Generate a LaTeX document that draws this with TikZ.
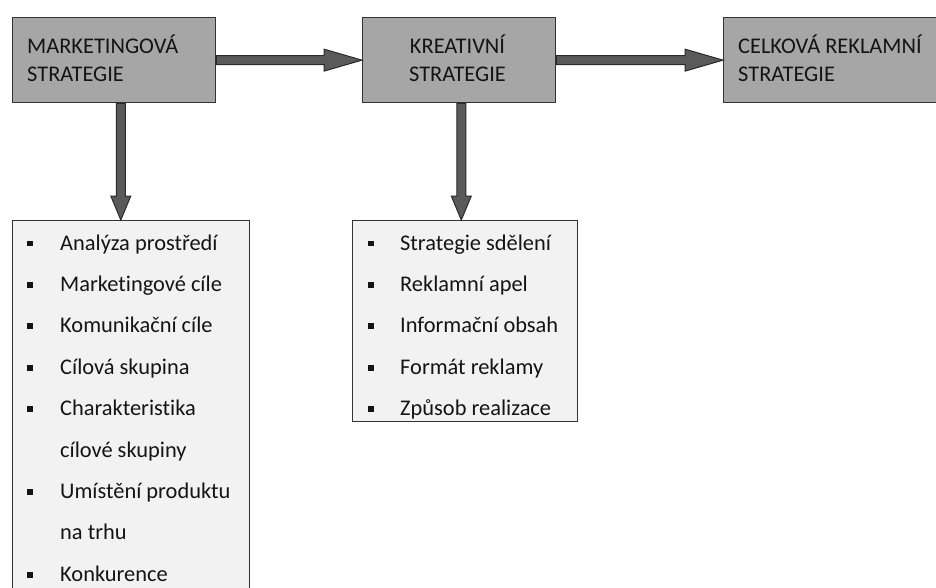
\documentclass[tikz,border=0pt]{standalone}
\usepackage{fontspec}
\setmainfont[Ligatures={NoCommon}]{Carlito}
\usetikzlibrary{calc}
\definecolor{boxgray}{HTML}{A6A6A6}
\definecolor{listbg}{HTML}{F2F2F2}
\definecolor{edge}{HTML}{333333}
\definecolor{arrfill}{HTML}{5A5A5A}
\definecolor{arredge}{HTML}{2A2A2A}
\definecolor{ink}{HTML}{141414}
\begin{document}
\begin{tikzpicture}[x=1pt,y=-1pt,
  stratbox/.style={draw=edge, line width=1.3pt, fill=boxgray, inner sep=0pt, anchor=north west},
  listbox/.style={draw=edge, line width=1.3pt, fill=listbg, inner sep=0pt, anchor=north west},
  head/.style={font=\fontsize{22.4}{27}\selectfont, text=ink, inner sep=0pt},
  item/.style={font=\fontsize{22.4}{27}\selectfont, text=ink, inner sep=0pt, anchor=base west},
  bul/.style={fill=ink, inner sep=0pt, minimum width=6pt, minimum height=5.8pt},
  barrow/.style={fill=arrfill, draw=arredge, line width=1pt, line join=miter}]
\useasboundingbox (0,0) rectangle (936,588);
\fill[white] (0,0) rectangle (936,588);

% top boxes
\node[stratbox, minimum width=203pt, minimum height=85pt] (mk) at (12,17) {};
\node[stratbox, minimum width=193pt, minimum height=85pt] (kr) at (362,17) {};
\node[stratbox, minimum width=240pt, minimum height=85pt] (ce) at (723,17) {};

\node[head, anchor=base west] (mk1) at (27,54) {MARKETINGOVÁ};
\node[head, anchor=base west] (mk2) at (27,81.5) {STRATEGIE};
\node[head, anchor=base] (kr1) at (457.5,54) {KREATIVNÍ};
\node[head, anchor=base] (kr2) at (457.5,81.5) {STRATEGIE};
\node[head, anchor=base west] (ce1) at (738,54) {CELKOVÁ REKLAMNÍ};
\node[head, anchor=base west] (ce2) at (738,81.5) {STRATEGIE};

% list boxes
\node[listbox, minimum width=237pt, minimum height=400pt] (lm) at (12,220) {};
\node[listbox, minimum width=225pt, minimum height=201pt] (lk) at (352,220) {};

\begin{scope}
\clip ([shift={(0.7pt,-0.7pt)}]lm.north west) rectangle ([shift={(-0.7pt,0.7pt)}]lm.south east);
\foreach \b/\t [count=\i] in {1/Analýza prostředí, 1/Marketingové cíle, 1/Komunikační cíle, 1/Cílová skupina, 1/Charakteristika, 0/cílové skupiny, 1/Umístění produktu, 0/na trhu, 1/Konkurence}{
  \pgfmathsetmacro\yy{250+41.4*(\i-1)}
  \node[item] (la\i) at (60,\yy) {\t};
  \ifnum\b=1 \node[bul] (ba\i) at (30.3,\yy-6.6) {};\fi
}
\end{scope}

\begin{scope}
\clip ([shift={(0.7pt,-0.7pt)}]lk.north west) rectangle ([shift={(-0.7pt,0.7pt)}]lk.south east);
\foreach \t [count=\i] in {Strategie sdělení, Reklamní apel, Informační obsah, Formát reklamy, Způsob realizace}{
  \pgfmathsetmacro\yy{250+41.4*(\i-1)}
  \node[item] (lb\i) at (400,\yy) {\t};
  \node[bul] (bb\i) at (370.5,\yy-6.6) {};
}
\end{scope}

% horizontal block arrows
\path[barrow] let \p1=(mk.east), \p2=(kr.west) in
  (\x1,\y1+4.5pt) -- (\x2-38pt,\y1+4.5pt) -- (\x2-38pt,\y1+11pt) -- (\x2,\y1)
  -- (\x2-38pt,\y1-11pt) -- (\x2-38pt,\y1-4.5pt) -- (\x1,\y1-4.5pt) -- cycle;
\path[barrow] let \p1=(kr.east), \p2=(ce.west) in
  (\x1,\y1+4.5pt) -- (\x2-38pt,\y1+4.5pt) -- (\x2-38pt,\y1+11pt) -- (\x2,\y1)
  -- (\x2-38pt,\y1-11pt) -- (\x2-38pt,\y1-4.5pt) -- (\x1,\y1-4.5pt) -- cycle;

% vertical block arrows
\coordinate (va) at (120.8,0);
\coordinate (vb) at (461.3,0);
\path[barrow] let \p1=(mk.south), \p2=(lm.north), \p3=(va) in
  (\x3-4.5pt,\y1) -- (\x3-4.5pt,\y2+24pt) -- (\x3-10pt,\y2+24pt) -- (\x3,\y2)
  -- (\x3+10pt,\y2+24pt) -- (\x3+4.5pt,\y2+24pt) -- (\x3+4.5pt,\y1) -- cycle;
\path[barrow] let \p1=(kr.south), \p2=(lk.north), \p3=(vb) in
  (\x3-4.5pt,\y1) -- (\x3-4.5pt,\y2+24pt) -- (\x3-10pt,\y2+24pt) -- (\x3,\y2)
  -- (\x3+10pt,\y2+24pt) -- (\x3+4.5pt,\y2+24pt) -- (\x3+4.5pt,\y1) -- cycle;
\end{tikzpicture}
\end{document}
